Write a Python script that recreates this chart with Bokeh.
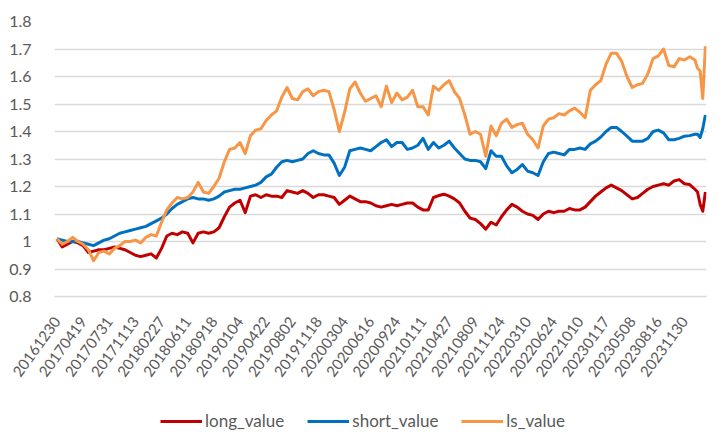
from bokeh.plotting import figure
from bokeh.layouts import column
from bokeh.models import FixedTicker, Range1d, Legend, LegendItem
from bokeh.embed import file_html
from bokeh.resources import INLINE

# ---- data -------------------------------------------------------------
tick_labels = ["20161230", "20170419", "20170731", "20171113", "20180227",
               "20180611", "20180918", "20190104", "20190422", "20190802",
               "20191118", "20200304", "20200616", "20200924", "20210111",
               "20210427", "20210809", "20211124", "20220310", "20220624",
               "20221010", "20230117", "20230508", "20230816", "20231130"]
label_step = 70                       # trading days between shown labels
tick_days = [k * label_step for k in range(len(tick_labels))]

# trading-day index of each sampled observation
days = list(range(0, 1695, 14)) + [1708, 1715, 1722, 1729, 1736]

long_value = [
    1.01, 0.98, 0.99, 1.0, 0.995, 0.985, 0.96, 0.965, 0.97, 0.97,
    0.975, 0.98, 0.975, 0.97, 0.96, 0.95, 0.945, 0.95, 0.955, 0.94,
    0.975, 1.02, 1.03, 1.025, 1.035, 1.03, 0.995, 1.03, 1.035, 1.03,
    1.035, 1.05, 1.09, 1.125, 1.14, 1.15, 1.105, 1.165, 1.17, 1.16,
    1.17, 1.165, 1.165, 1.16, 1.185, 1.18, 1.175, 1.185, 1.175, 1.16,
    1.17, 1.17, 1.165, 1.16, 1.135, 1.15, 1.165, 1.155, 1.145, 1.145,
    1.14, 1.13, 1.125, 1.13, 1.135, 1.13, 1.135, 1.14, 1.14, 1.125,
    1.115, 1.115, 1.16, 1.167, 1.172, 1.165, 1.155, 1.14, 1.11, 1.085,
    1.08, 1.065, 1.045, 1.07, 1.06, 1.09, 1.115, 1.135, 1.125, 1.11,
    1.10, 1.095, 1.08, 1.10, 1.11, 1.105, 1.11, 1.11, 1.12, 1.115,
    1.115, 1.125, 1.145, 1.165, 1.18, 1.195, 1.205, 1.195, 1.185, 1.17,
    1.155, 1.16, 1.175, 1.19, 1.20, 1.205, 1.21, 1.205, 1.22, 1.225,
    1.21, 1.207,
    1.19, 1.18, 1.135, 1.11, 1.18]

short_value = [
    1.01, 1.005, 1.0, 1.0, 1.0, 0.995, 0.99, 0.985, 0.995, 1.005,
    1.01, 1.02, 1.03, 1.035, 1.04, 1.045, 1.05, 1.055, 1.065, 1.075,
    1.085, 1.10, 1.12, 1.135, 1.145, 1.155, 1.16, 1.155, 1.155, 1.15,
    1.155, 1.165, 1.18, 1.185, 1.19, 1.19, 1.195, 1.20, 1.205, 1.215,
    1.235, 1.245, 1.27, 1.29, 1.295, 1.29, 1.295, 1.30, 1.32, 1.33,
    1.32, 1.315, 1.315, 1.285, 1.24, 1.27, 1.33, 1.335, 1.34, 1.335,
    1.33, 1.345, 1.36, 1.37, 1.345, 1.36, 1.36, 1.335, 1.34, 1.35,
    1.375, 1.335, 1.36, 1.34, 1.35, 1.365, 1.34, 1.32, 1.30, 1.295,
    1.295, 1.29, 1.265, 1.33, 1.31, 1.31, 1.275, 1.25, 1.262, 1.28,
    1.256, 1.25, 1.24, 1.29, 1.32, 1.325, 1.32, 1.315, 1.335, 1.335,
    1.34, 1.335, 1.355, 1.365, 1.38, 1.40, 1.415, 1.415, 1.40, 1.383,
    1.365, 1.365, 1.365, 1.375, 1.40, 1.405, 1.395, 1.37, 1.37, 1.375,
    1.383, 1.385,
    1.39, 1.39, 1.378, 1.41, 1.46]

ls_value = [
    1.01, 0.99, 1.00, 1.015, 1.00, 0.99, 0.97, 0.93, 0.96, 0.965,
    0.955, 0.975, 0.985, 1.0, 1.0, 1.005, 0.995, 1.015, 1.025, 1.02,
    1.07, 1.115, 1.14, 1.16, 1.155, 1.16, 1.18, 1.215, 1.18, 1.175,
    1.20, 1.23, 1.29, 1.335, 1.34, 1.36, 1.32, 1.385, 1.405, 1.41,
    1.44, 1.46, 1.475, 1.525, 1.56, 1.52, 1.515, 1.545, 1.555, 1.53,
    1.545, 1.55, 1.545, 1.48, 1.40, 1.47, 1.555, 1.58, 1.54, 1.51,
    1.52, 1.53, 1.49, 1.565, 1.505, 1.54, 1.515, 1.525, 1.55, 1.49,
    1.49, 1.46, 1.565, 1.55, 1.57, 1.585, 1.545, 1.52, 1.46, 1.39,
    1.40, 1.39, 1.31, 1.42, 1.385, 1.43, 1.445, 1.415, 1.425, 1.43,
    1.39, 1.37, 1.34, 1.42, 1.445, 1.45, 1.465, 1.46, 1.475, 1.485,
    1.47, 1.45, 1.55, 1.57, 1.585, 1.645, 1.685, 1.685, 1.655, 1.60,
    1.56, 1.57, 1.575, 1.61, 1.665, 1.675, 1.70, 1.64, 1.635, 1.665,
    1.66, 1.672,
    1.66, 1.63, 1.62, 1.52, 1.71]

y_ticks = [0.8, 0.9, 1.0, 1.1, 1.2, 1.3, 1.4, 1.5, 1.6, 1.7, 1.8]
y_tick_labels = ["0.8", "0.9", "1", "1.1", "1.2", "1.3", "1.4", "1.5", "1.6", "1.7", "1.8"]

series_names = ["long_value", "short_value", "ls_value"]
series_colors = ["#C00000", "#0070C0", "#F79646"]

# ---- main chart -------------------------------------------------------
FONT = "Lato"
TXT = "#595959"
GRID = "#D9D9D9"
W = 707
LEFT = 54

p = figure(width=W, height=391, output_backend="svg", toolbar_location=None,
           x_range=Range1d(-6.7, 1739), y_range=Range1d(0.8, 1.8),
           min_border_left=LEFT, min_border_right=1, min_border_top=21,
           min_border_bottom=95)
p.outline_line_color = None
p.background_fill_color = "white"
p.border_fill_color = "white"

p.xgrid.grid_line_color = None
p.ygrid.grid_line_color = GRID
p.ygrid.grid_line_width = 1.3

p.yaxis.ticker = FixedTicker(ticks=y_ticks)
p.yaxis.major_label_overrides = dict(zip(y_ticks, y_tick_labels))
p.yaxis.axis_line_color = None
p.yaxis.major_tick_line_color = None
p.yaxis.minor_tick_line_color = None
p.yaxis.major_label_standoff = 17
p.yaxis.major_label_text_font = FONT
p.yaxis.major_label_text_font_size = "16px"
p.yaxis.major_label_text_color = TXT

p.xaxis.ticker = FixedTicker(ticks=tick_days)
p.xaxis.major_label_overrides = dict(zip(tick_days, tick_labels))
p.xaxis.axis_line_color = GRID
p.xaxis.axis_line_width = 1.3
p.xaxis.major_tick_line_color = None
p.xaxis.minor_tick_line_color = None
p.xaxis.major_label_orientation = 0.94
p.xaxis.major_label_standoff = 16
p.xaxis.major_label_text_font = FONT
p.xaxis.major_label_text_font_size = "15px"
p.xaxis.major_label_text_color = TXT

for vals, col in zip([long_value, short_value, ls_value], series_colors):
    p.line(days, vals, line_color=col, line_width=3, line_join="round")

# ---- legend strip -----------------------------------------------------
lg = figure(width=W, height=40, output_backend="svg", toolbar_location=None,
            x_axis_location=None, y_axis_location=None,
            x_range=Range1d(0, 1), y_range=Range1d(0, 1),
            min_border_left=LEFT, min_border_right=1, min_border_top=0,
            min_border_bottom=0)
lg.outline_line_color = None
lg.grid.visible = False
lg.background_fill_color = "white"
lg.border_fill_color = "white"

nan = float("nan")
items = []
for name, col in zip(series_names, series_colors):
    # invisible proxy lines: only their legend swatches are drawn
    r = lg.line(x=[0.0, 1.0], y=[nan, nan], line_color=col, line_width=3)
    items.append(LegendItem(label=name, renderers=[r]))

legend = Legend(items=items, orientation="horizontal", location=(160 - LEFT, 0),
                border_line_color=None, background_fill_alpha=0,
                label_text_font=FONT, label_text_font_size="17px",
                label_text_color=TXT, glyph_width=42, glyph_height=14,
                label_standoff=3, spacing=23, margin=0, padding=0)
lg.add_layout(legend, "center")

page = column(p, lg, spacing=0)
open("out.html", "w").write(file_html(page, INLINE))
